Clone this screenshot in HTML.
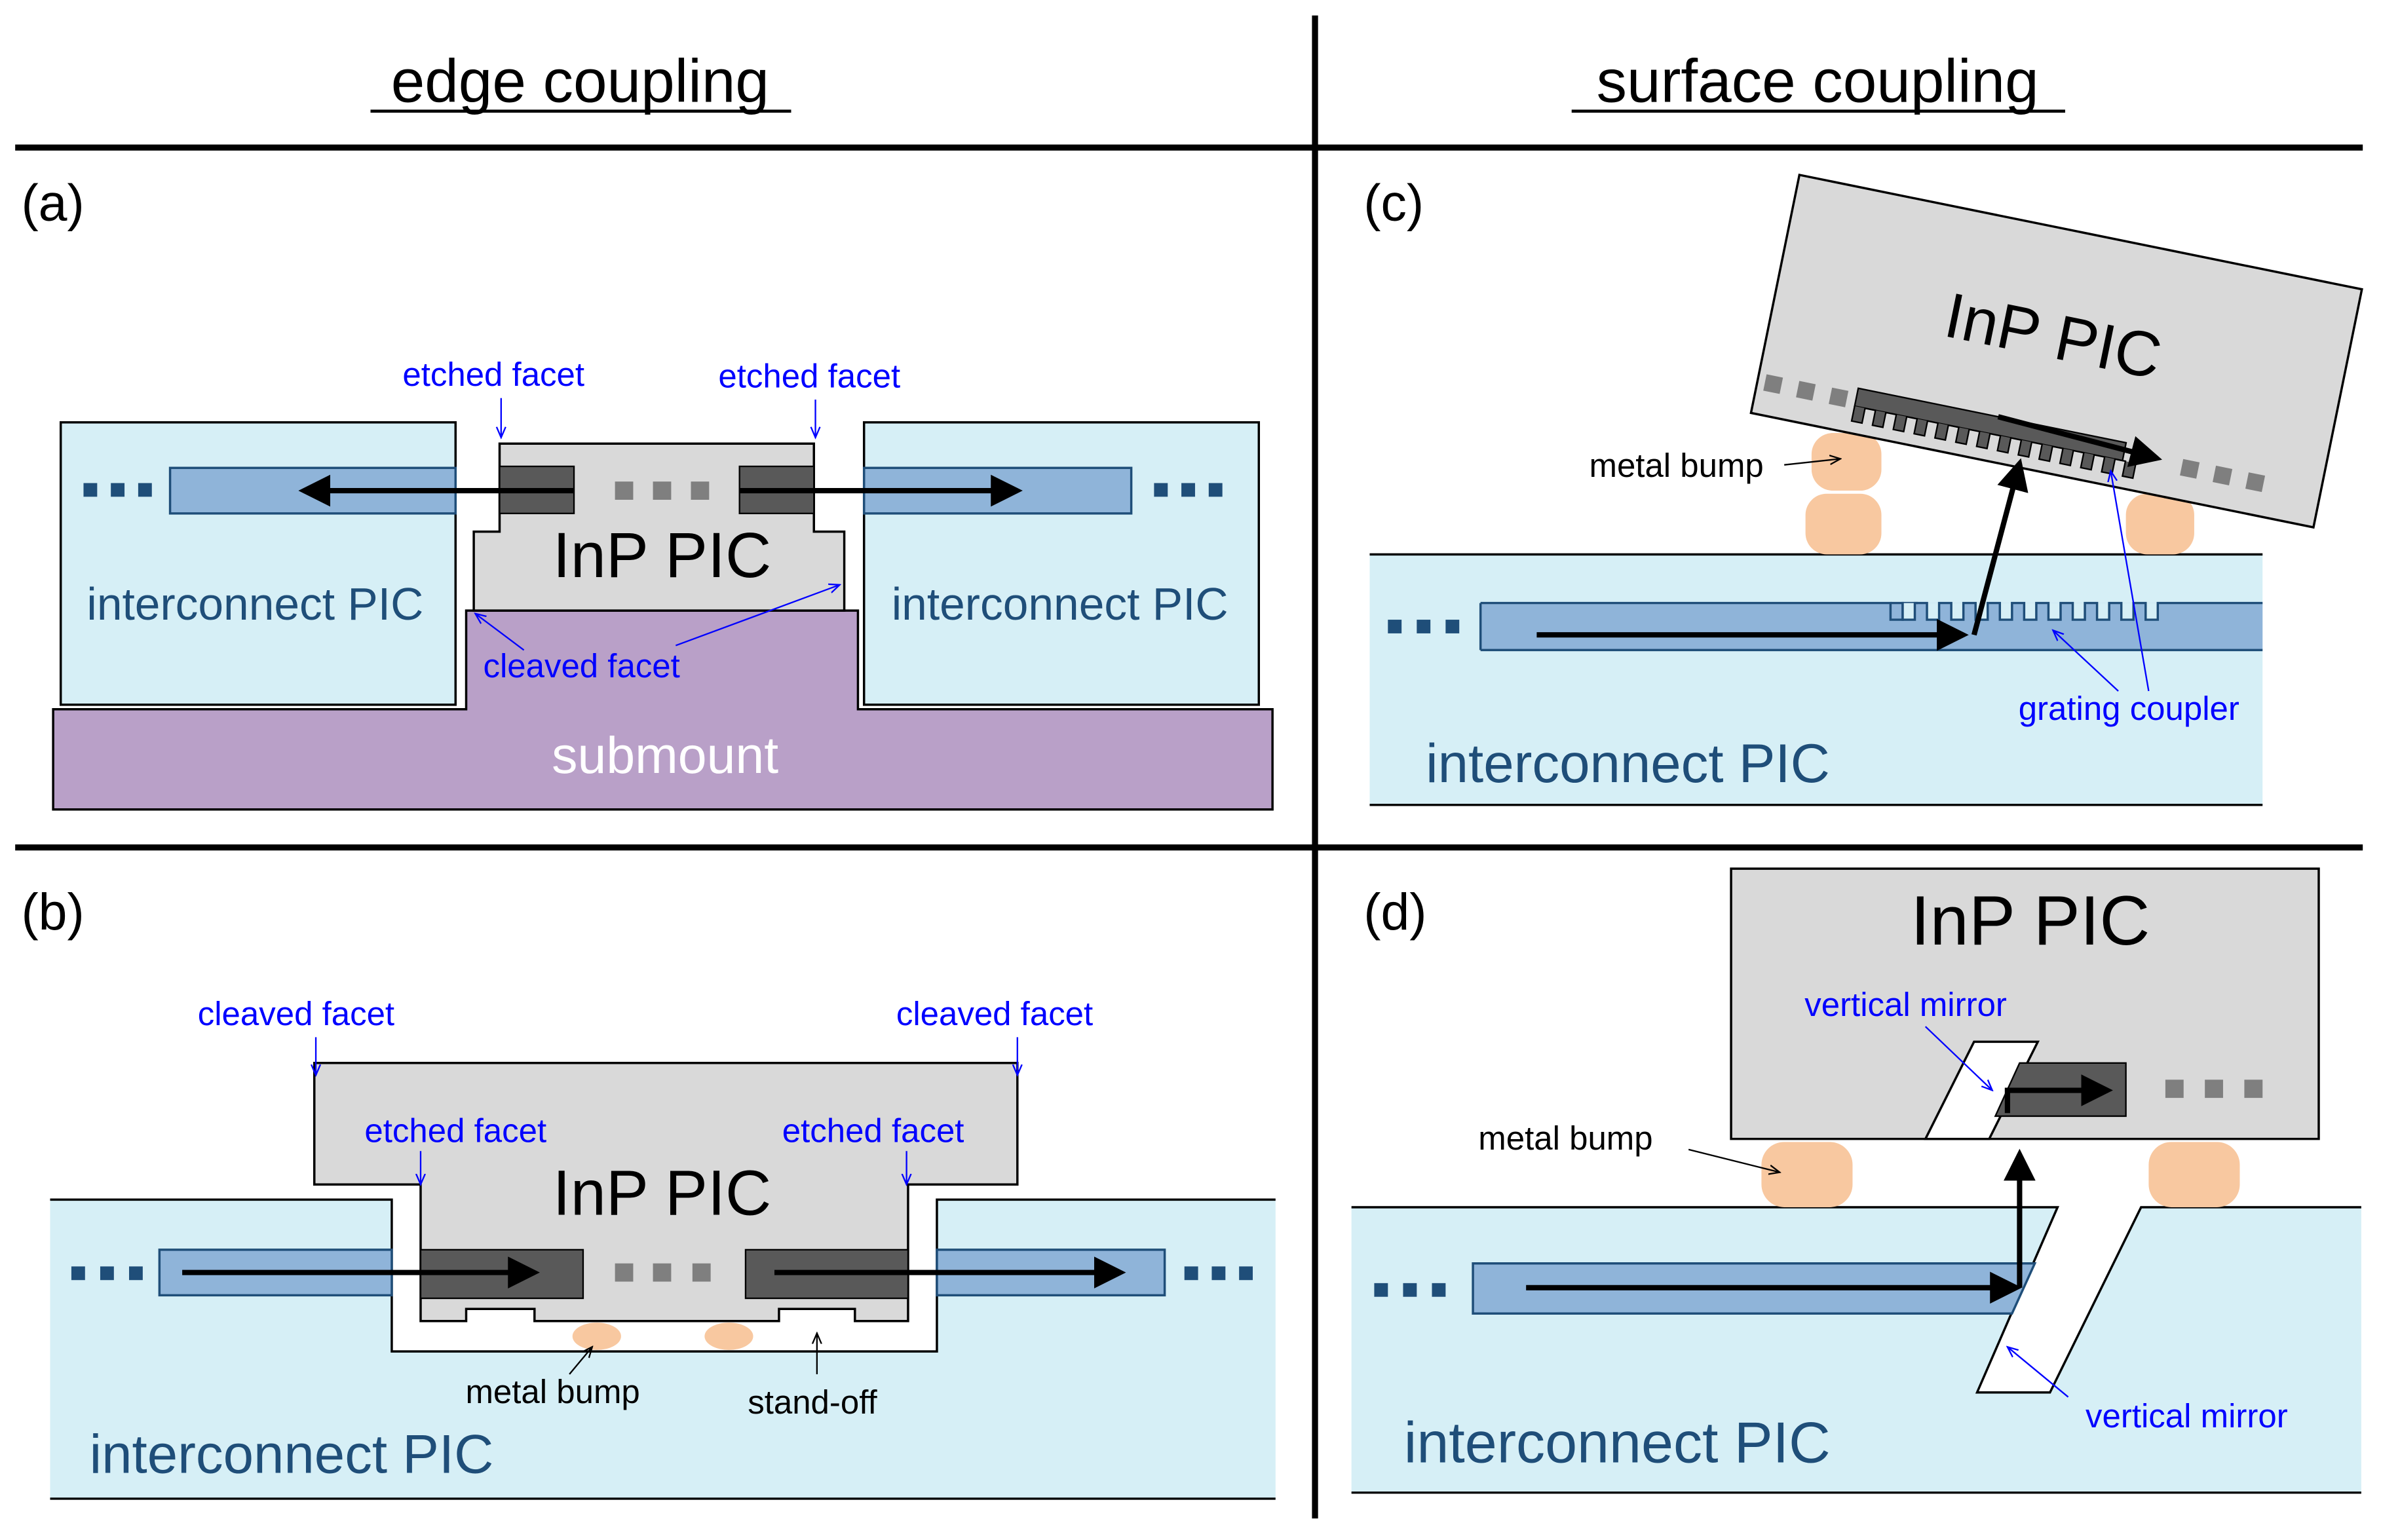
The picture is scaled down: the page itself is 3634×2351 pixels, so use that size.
<!DOCTYPE html>
<html><head><meta charset="utf-8"><style>
html,body{margin:0;padding:0;background:#fff;}
svg{display:block;}
text{font-family:"Liberation Sans","DejaVu Sans",sans-serif;}
</style></head><body>
<svg width="3634" height="2351" viewBox="0 0 1568 1014" xmlns="http://www.w3.org/2000/svg">
<defs>
<marker id="ah" markerWidth="6" markerHeight="6" refX="5" refY="3" orient="auto" markerUnits="strokeWidth"><path d="M0,0 L6,3 L0,6 Z" fill="#000"/></marker>
<marker id="bh" markerWidth="8" markerHeight="8" refX="7" refY="4" orient="auto" markerUnits="userSpaceOnUse"><path d="M0,1 L7,4 L0,7" fill="none" stroke="#0000ff" stroke-width="1"/></marker>
<marker id="kh" markerWidth="8" markerHeight="8" refX="7" refY="4" orient="auto" markerUnits="userSpaceOnUse"><path d="M0,1 L7,4 L0,7" fill="none" stroke="#000" stroke-width="1"/></marker>
</defs>
<rect width="1568" height="1014" fill="#fff"/>
<!-- headers -->
<text x="382" y="67" font-size="40" text-anchor="middle">edge coupling</text>
<line x1="244" y1="73" x2="521" y2="73" stroke="#000" stroke-width="2"/>
<text x="1197" y="67" font-size="40" text-anchor="middle">surface coupling</text>
<line x1="1035" y1="73" x2="1360" y2="73" stroke="#000" stroke-width="2"/>
<line x1="10" y1="97" x2="1556" y2="97" stroke="#000" stroke-width="4"/>
<line x1="10" y1="558" x2="1556" y2="558" stroke="#000" stroke-width="4"/>
<line x1="866" y1="10" x2="866" y2="1000" stroke="#000" stroke-width="4"/>

<!-- (a) -->
<text x="14" y="145" font-size="34">(a)</text>
<path d="M35,467 L307,467 L307,402 L565,402 L565,467 L838,467 L838,533 L35,533 Z" fill="#b9a0c8" stroke="#000" stroke-width="1.5"/>
<rect x="40" y="278" width="260" height="186" fill="#d6eff6" stroke="#000" stroke-width="1.5"/>
<rect x="569" y="278" width="260" height="186" fill="#d6eff6" stroke="#000" stroke-width="1.5"/>
<path d="M329,292 L536,292 L536,350 L556,350 L556,402 L312,402 L312,350 L329,350 Z" fill="#d9d9d9" stroke="#000" stroke-width="1.5"/>
<rect x="112" y="308" width="188" height="30" fill="#8fb4d9" stroke="#1f4e79" stroke-width="1.5"/>
<rect x="569" y="308" width="176" height="30" fill="#8fb4d9" stroke="#1f4e79" stroke-width="1.5"/>
<rect x="329" y="307" width="49" height="31" fill="#595959" stroke="#000"/>
<rect x="487" y="307" width="49" height="31" fill="#595959" stroke="#000"/>
<rect x="405" y="317" width="12" height="12" fill="#7f7f7f"/><rect x="430" y="317" width="12" height="12" fill="#7f7f7f"/><rect x="455" y="317" width="12" height="12" fill="#7f7f7f"/>
<g fill="#1f4e79"><rect x="55" y="318" width="9" height="9"/><rect x="73" y="318" width="9" height="9"/><rect x="91" y="318" width="9" height="9"/>
<rect x="760" y="318" width="9" height="9"/><rect x="778" y="318" width="9" height="9"/><rect x="796" y="318" width="9" height="9"/></g>
<line x1="378" y1="323" x2="200" y2="323" stroke="#000" stroke-width="3.5" marker-end="url(#ah)"/>
<line x1="487" y1="323" x2="670" y2="323" stroke="#000" stroke-width="3.5" marker-end="url(#ah)"/>
<text x="436" y="380" font-size="42" text-anchor="middle">InP PIC</text>
<text x="168" y="408" font-size="30" fill="#1f4e79" text-anchor="middle">interconnect PIC</text>
<text x="698" y="408" font-size="30" fill="#1f4e79" text-anchor="middle">interconnect PIC</text>
<text x="438" y="509" font-size="34" fill="#fff" text-anchor="middle">submount</text>
<text x="325" y="254" font-size="22" fill="#0000ff" text-anchor="middle">etched facet</text>
<line x1="330" y1="262" x2="330" y2="288" stroke="#0000ff" marker-end="url(#bh)"/>
<text x="533" y="255" font-size="22" fill="#0000ff" text-anchor="middle">etched facet</text>
<line x1="537" y1="263" x2="537" y2="288" stroke="#0000ff" marker-end="url(#bh)"/>
<text x="383" y="446" font-size="22" fill="#0000ff" text-anchor="middle">cleaved facet</text>
<line x1="345" y1="428" x2="313" y2="404" stroke="#0000ff" marker-end="url(#bh)"/>
<line x1="445" y1="425" x2="553" y2="385" stroke="#0000ff" marker-end="url(#bh)"/>

<!-- (b) -->
<text x="14" y="612" font-size="34">(b)</text>
<path d="M33,790 L258,790 L258,890 L617,890 L617,790 L840,790 L840,987 L33,987 Z" fill="#d6eff6"/>
<path d="M33,790 L258,790 L258,890 L617,890 L617,790 L840,790" fill="none" stroke="#000" stroke-width="1.5"/>
<line x1="33" y1="987" x2="840" y2="987" stroke="#000" stroke-width="1.5"/>
<path d="M207,700 L670,700 L670,780 L598,780 L598,870 L563,870 L563,862 L513,862 L513,870 L352,870 L352,862 L307,862 L307,870 L277,870 L277,780 L207,780 Z" fill="#d9d9d9" stroke="#000" stroke-width="1.5"/>
<rect x="105" y="823" width="153" height="30" fill="#8fb4d9" stroke="#1f4e79" stroke-width="1.5"/>
<rect x="617" y="823" width="150" height="30" fill="#8fb4d9" stroke="#1f4e79" stroke-width="1.5"/>
<rect x="277" y="823" width="107" height="32" fill="#595959" stroke="#000"/>
<rect x="491" y="823" width="107" height="32" fill="#595959" stroke="#000"/>
<rect x="405" y="832" width="12" height="12" fill="#7f7f7f"/><rect x="430" y="832" width="12" height="12" fill="#7f7f7f"/><rect x="456" y="832" width="12" height="12" fill="#7f7f7f"/>
<g fill="#1f4e79"><rect x="47" y="834" width="9" height="9"/><rect x="66" y="834" width="9" height="9"/><rect x="85" y="834" width="9" height="9"/>
<rect x="780" y="834" width="9" height="9"/><rect x="798" y="834" width="9" height="9"/><rect x="816" y="834" width="9" height="9"/></g>
<ellipse cx="393" cy="880" rx="16" ry="9" fill="#f8c8a0"/>
<ellipse cx="480" cy="880" rx="16" ry="9" fill="#f8c8a0"/>
<line x1="120" y1="838" x2="352" y2="838" stroke="#000" stroke-width="3.5" marker-end="url(#ah)"/>
<line x1="510" y1="838" x2="738" y2="838" stroke="#000" stroke-width="3.5" marker-end="url(#ah)"/>
<text x="436" y="800" font-size="42" text-anchor="middle">InP PIC</text>
<text x="192" y="970" font-size="36" fill="#1f4e79" text-anchor="middle">interconnect PIC</text>
<text x="195" y="675" font-size="22" fill="#0000ff" text-anchor="middle">cleaved facet</text>
<line x1="208" y1="683" x2="208" y2="708" stroke="#0000ff" marker-end="url(#bh)"/>
<text x="655" y="675" font-size="22" fill="#0000ff" text-anchor="middle">cleaved facet</text>
<line x1="670" y1="683" x2="670" y2="708" stroke="#0000ff" marker-end="url(#bh)"/>
<text x="300" y="752" font-size="22" fill="#0000ff" text-anchor="middle">etched facet</text>
<line x1="277" y1="758" x2="277" y2="780" stroke="#0000ff" marker-end="url(#bh)"/>
<text x="575" y="752" font-size="22" fill="#0000ff" text-anchor="middle">etched facet</text>
<line x1="597" y1="758" x2="597" y2="780" stroke="#0000ff" marker-end="url(#bh)"/>
<text x="364" y="924" font-size="22" text-anchor="middle">metal bump</text>
<line x1="375" y1="905" x2="390" y2="887" stroke="#000" marker-end="url(#kh)"/>
<text x="535" y="931" font-size="22" text-anchor="middle">stand-off</text>
<line x1="538" y1="905" x2="538" y2="878" stroke="#000" marker-end="url(#kh)"/>

<!-- (c) -->
<text x="898" y="145" font-size="34">(c)</text>
<rect x="902" y="365" width="588" height="165" fill="#d6eff6"/>
<line x1="902" y1="365" x2="1490" y2="365" stroke="#000" stroke-width="1.5"/>
<line x1="902" y1="530" x2="1490" y2="530" stroke="#000" stroke-width="1.5"/>
<rect x="975" y="397" width="515" height="31" fill="#8fb4d9"/>
<path d="M975,397 L1245,397 L1245,408 L1253,408 L1253,397 L1263,397" fill="none" stroke="#1f4e79" stroke-width="1.5"/>
<path d="M1245,397 l8,0 l0,11 l8,0 l0,-11 l8,0 l0,11 l8,0 l0,-11 l8,0 l0,11 l8,0 l0,-11 l8,0 l0,11 l8,0 l0,-11 l8,0 l0,11 l8,0 l0,-11 l8,0 l0,11 l8,0 l0,-11 l8,0 l0,11 l8,0 l0,-11 l8,0 l0,11 l8,0 l0,-11 l8,0 l0,11 l8,0 l0,-11 l8,0 l0,11 l8,0 l0,-11 l8,0 l0,11 l8,0 l0,-11 l2,0 L1490,397" fill="#d6eff6" stroke="#1f4e79" stroke-width="1.5"/>
<line x1="975" y1="428" x2="1490" y2="428" stroke="#1f4e79" stroke-width="1.5"/>
<line x1="975" y1="397" x2="975" y2="428" stroke="#1f4e79" stroke-width="1.5"/>
<g fill="#1f4e79"><rect x="914" y="408" width="9" height="9"/><rect x="933" y="408" width="9" height="9"/><rect x="952" y="408" width="9" height="9"/></g>
<rect x="1193" y="285" width="46" height="38" rx="14" fill="#f8c8a0"/>
<rect x="1189" y="325" width="50" height="40" rx="14" fill="#f8c8a0"/>
<rect x="1400" y="325" width="45" height="40" rx="14" fill="#f8c8a0"/>
<g transform="translate(1185,115) rotate(11.5)">
<rect x="0" y="0" width="378" height="160" fill="#d9d9d9" stroke="#000" stroke-width="1.5"/>
<text x="185" y="85" font-size="42" text-anchor="middle">InP PIC</text>
<rect x="66" y="130" width="180" height="12" fill="#595959" stroke="#000"/>
<path d="M66,142 l0,10 l7,0 l0,-10 l7,0 l0,10 l7,0 l0,-10 l7,0 l0,10 l7,0 l0,-10 l7,0 l0,10 l7,0 l0,-10 l7,0 l0,10 l7,0 l0,-10 l7,0 l0,10 l7,0 l0,-10 l7,0 l0,10 l7,0 l0,-10 l7,0 l0,10 l7,0 l0,-10 l7,0 l0,10 l7,0 l0,-10 l7,0 l0,10 l7,0 l0,-10 l7,0 l0,10 l7,0 l0,-10 l7,0 l0,10 l7,0 l0,-10 l7,0 l0,10 l7,0 l0,-10 l7,0 l0,10 l7,0 l0,-10" fill="#595959" stroke="#000" stroke-width="1"/>
<rect x="5" y="133" width="11" height="11" fill="#7f7f7f"/><rect x="27" y="133" width="11" height="11" fill="#7f7f7f"/><rect x="49" y="133" width="11" height="11" fill="#7f7f7f"/>
<rect x="285" y="133" width="11" height="11" fill="#7f7f7f"/><rect x="307" y="133" width="11" height="11" fill="#7f7f7f"/><rect x="329" y="133" width="11" height="11" fill="#7f7f7f"/>
<line x1="160" y1="130" x2="268" y2="136" stroke="#000" stroke-width="3.5" marker-end="url(#ah)"/>
</g>
<line x1="1012" y1="418" x2="1293" y2="418" stroke="#000" stroke-width="3.5" marker-end="url(#ah)"/>
<line x1="1300" y1="418" x2="1330" y2="305" stroke="#000" stroke-width="3.5" marker-end="url(#ah)"/>
<text x="1104" y="314" font-size="22" text-anchor="middle">metal bump</text>
<line x1="1175" y1="306" x2="1212" y2="302" stroke="#000" marker-end="url(#kh)"/>
<text x="1402" y="474" font-size="22" fill="#0000ff" text-anchor="middle">grating coupler</text>
<line x1="1395" y1="455" x2="1352" y2="415" stroke="#0000ff" marker-end="url(#bh)"/>
<line x1="1415" y1="455" x2="1390" y2="310" stroke="#0000ff" marker-end="url(#bh)"/>
<text x="1072" y="515" font-size="36" fill="#1f4e79" text-anchor="middle">interconnect PIC</text>

<!-- (d) -->
<text x="898" y="612" font-size="34">(d)</text>
<path d="M890,795 L1355,795 L1302,917 L1350,917 L1410,795 L1555,795 L1555,983 L890,983 Z" fill="#d6eff6"/>
<path d="M890,795 L1355,795 L1302,917 L1350,917 L1410,795 L1555,795" fill="none" stroke="#000" stroke-width="1.5"/>
<line x1="890" y1="983" x2="1555" y2="983" stroke="#000" stroke-width="1.5"/>
<path d="M970,832 L1340,832 L1325,865 L970,865 Z" fill="#8fb4d9" stroke="#1f4e79" stroke-width="1.5"/>
<g fill="#1f4e79"><rect x="905" y="845" width="9" height="9"/><rect x="924" y="845" width="9" height="9"/><rect x="943" y="845" width="9" height="9"/></g>
<path d="M1140,572 L1527,572 L1527,750 L1140,750 Z" fill="#d9d9d9" stroke="#000" stroke-width="1.5"/>
<path d="M1300,686 L1342,686 L1310,750 L1268,750 Z" fill="#fff" stroke="#000" stroke-width="1.5"/>
<path d="M1330,700 L1400,700 L1400,735 L1314,735 Z" fill="#595959" stroke="#000"/>
<rect x="1426" y="711" width="12" height="12" fill="#7f7f7f"/><rect x="1452" y="711" width="12" height="12" fill="#7f7f7f"/><rect x="1478" y="711" width="12" height="12" fill="#7f7f7f"/>
<rect x="1160" y="752" width="60" height="43" rx="15" fill="#f8c8a0"/>
<rect x="1415" y="752" width="60" height="43" rx="15" fill="#f8c8a0"/>
<text x="1337" y="622" font-size="46" text-anchor="middle">InP PIC</text>
<line x1="1005" y1="848" x2="1328" y2="848" stroke="#000" stroke-width="3.5" marker-end="url(#ah)"/>
<line x1="1330" y1="848" x2="1330" y2="760" stroke="#000" stroke-width="3.5" marker-end="url(#ah)"/>
<path d="M1322,733 L1322,718 L1388,718" fill="none" stroke="#000" stroke-width="3.5" marker-end="url(#ah)"/>
<text x="1255" y="669" font-size="22" fill="#0000ff" text-anchor="middle">vertical mirror</text>
<line x1="1268" y1="676" x2="1312" y2="718" stroke="#0000ff" marker-end="url(#bh)"/>
<text x="1440" y="940" font-size="22" fill="#0000ff" text-anchor="middle">vertical mirror</text>
<line x1="1362" y1="920" x2="1322" y2="887" stroke="#0000ff" marker-end="url(#bh)"/>
<text x="1031" y="757" font-size="22" text-anchor="middle">metal bump</text>
<line x1="1112" y1="757" x2="1172" y2="772" stroke="#000" marker-end="url(#kh)"/>
<text x="1065" y="963" font-size="38" fill="#1f4e79" text-anchor="middle">interconnect PIC</text>
</svg>
</body></html>
